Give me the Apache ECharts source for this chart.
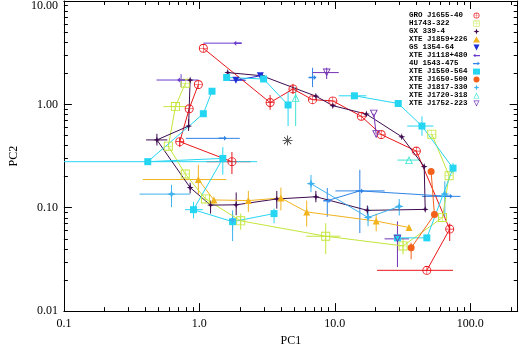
<!DOCTYPE html>
<html><head><meta charset="utf-8">
<script src="https://cdn.jsdelivr.net/npm/echarts@6/dist/echarts.min.js"></script>
<style>html,body{margin:0;padding:0;background:#fff}#c{width:520px;height:352px}</style>
</head><body><div id="c"></div>
<script>
// ---------- tick values / labels ----------
const xTickValues = [0.1, 1, 10, 100];
const xTickLabels = ['0.1', '1.0', '10.0', '100.0'];
const xMinorTicks = [0.2,0.3,0.4,0.5,0.6,0.7,0.8,0.9,2,3,4,5,6,7,8,9,20,30,40,50,60,70,80,90,200];
const yTickValues = [0.01, 0.1, 1, 10];
const yTickLabels = ['0.01', '0.10', '1.00', '10.00'];
const yMinorTicks = [0.02,0.03,0.04,0.05,0.06,0.07,0.08,0.09,0.2,0.3,0.4,0.5,0.6,0.7,0.8,0.9,2,3,4,5,6,7,8,9];

const sourceNames = ['GRO J1655-40','H1743-322','GX 339-4','XTE J1859+226','GS 1354-64','XTE J1118+480',
  '4U 1543-475','XTE J1550-564','XTE J1650-500','XTE J1817-330','XTE J1720-318','XTE J1752-223'];

// rows: [PC1, PC2, PC1 low, PC1 high, PC2 low, PC2 high]; null = gap in line
const GRO_J1655 = [
  [1.74,0.279,1.13,2.39,0.212,0.346],[0.717,0.436,null,null,0.386,0.479],[0.841,0.905],[0.983,1.556],
  null,
  [1.07,3.49],[3.33,1.04,null,null,0.886,1.23],[4.91,1.41,null,null,1.27,1.58],[6.85,1.11],[9.67,1.08],
  [15.7,0.766],[22.0,0.511],[40.0,0.353],[70.5,0.0621,null,null,0.0477,0.0703],[47.8,0.0248,20.5,74.6,null,null]
];
const H1743 = [
  [0.787,1.60],[0.666,0.951,0.543,0.81,null,null],[0.590,0.394],[0.787,0.212],[1.11,0.1216],
  [2.02,0.0747,null,null,0.0612,0.0878],[8.57,0.053,6.14,11.0,0.0356,0.0707],[31.9,0.0427,null,null,0.0354,0.0511],
  [62.4,0.0805],[69.8,0.204],[52.0,0.515]
];
const GX339 = [
  [0.855,1.72],[0.833,0.617,null,null,0.554,0.718],[0.486,0.453,0.404,0.580,0.400,0.519],
  [0.855,0.1566,null,null,0.1375,0.1745],[1.21,0.106,null,null,0.0878,0.1172],[1.87,0.1067,null,null,0.0846,0.1406],
  [3.73,0.1216,null,null,0.0979,0.1455],[7.25,0.1277,null,null,0.113,0.1455],[17.4,0.0943,null,null,0.0846,0.105],
  [46.5,0.0964],[45.7,0.250],[31.2,0.486],[17.1,0.805],[9.67,0.972],[7.25,1.20],[2.90,1.89],[1.62,2.03]
];
const J1859 = [
  [0.983,0.1874,0.383,1.58,0.1355,0.2594],[1.28,0.119],[2.30,0.1172,null,null,0.0911,0.1455],
  [4.00,0.1242,null,null,0.0943,0.1566],[6.20,0.0911,null,null,0.0658,0.1172],[20.2,0.0743,null,null,0.0591,0.0878],
  [35.3,0.0644]
];
const GS1354 = [[1.86,1.71,1.62,2.2,null,null],[2.82,1.89]];
const J1118 = [[1.91,3.91,1.07,2.06,null,null],null,[0.733,1.72,0.483,0.988,1.47,1.96]];
const U1543 = [
  [1.49,0.469,0.796,1.99,null,null],null,[6.85,1.82,null,null,1.47,2.26],null,
  [8.80,0.1171,null,null,0.0818,0.155],[15.3,0.1455,10.1,23.3,0.0569,0.2328],[69.3,0.1288,44.0,84.7,null,null]
];
const J1550 = [
  [1.59,1.82],[2.98,1.76],[4.52,0.987,null,null,0.617,1.32],
  null,
  [1.24,1.34],[1.07,0.812],[0.416,0.279,0.1,2.67,null,null],[1.49,0.300,null,null,0.209,0.386],
  [0.905,0.0958,0.783,1.06,0.0789,0.114],[1.76,0.0733,null,null,0.0611,0.0878],[3.56,0.0878,null,null,0.0707,0.0979],
  null,
  [29.0,0.0511],[47.8,0.0511],[74.6,0.2415,null,null,0.215,0.27],[44.0,0.617,34.3,53.5,0.497,0.766],
  [29.4,1.02],[13.95,1.21,10.7,17.1,null,null]
];
const J1650 = [[51.4,0.2243],[54.4,0.0859],[36.6,0.0409,null,null,0.0317,0.0458]];
const J1817 = [
  [0.623,0.1355,0.362,0.855,0.1016,0.1665],null,[1.76,0.076,null,null,0.0476,0.0943],null,
  [6.67,0.1708,null,null,0.1414,0.2075],[17.6,0.0805,null,null,0.0662,0.1022],[29.9,0.1029,null,null,0.0841,0.1216],
  null,[64.9,0.1355,null,null,0.0818,0.1806]
];
const J1720 = [[5.14,1.156,null,null,0.617,1.47],null,[35.3,0.289,29.0,42.8,null,null]];
const J1752 = [[8.71,2.03,6.85,10.7,1.76,2.26],null,[19.4,0.812],[20.2,0.515],null,[29.0,0.050,23.3,35.3,0.0267,0.0738]];
const centroid = [[4.48, 0.446]];

const sourceData = [GRO_J1655, H1743, GX339, J1859, GS1354, J1118, U1543, J1550, J1650, J1817, J1720, J1752];

// ---------- styles ----------
const P_CIRC_X = 'path://M0,10A10,10 0 1,1 20,10A10,10 0 1,1 0,10ZM2,10A8,8 0 1,0 18,10A8,8 0 1,0 2,10ZM9.4,0H10.6V20H9.4ZM0,9.4H20V10.6H0Z';
const P_SQ_X = 'path://M0,0H20V20H0ZM2,2V18H18V2ZM9.4,0H10.6V20H9.4ZM0,9.4H20V10.6H0Z';
const P_STAR = 'path://M10,0L12.5,7.5L20,10L12.5,12.5L10,20L7.5,12.5L0,10L7.5,7.5Z';
const P_TRI_DN = 'path://M0,0H20L10,20Z';
const P_TRI_UP_O = 'path://M10,0L20,20L0,20ZM10,5L3.5,18L16.5,18Z';
const P_TRI_DN_O = 'path://M0,0H20L10,20ZM3.5,2L10,15L16.5,2Z';
const P_ARR_L = 'path://M20,8.5H7V5L0,10L7,15V11.5H20Z';
const P_ARR_R = 'path://M0,8.5H13V5L20,10L13,15V11.5H0Z';
const P_AST = 'path://M9.2,0H10.8V20H9.2ZM0,9.2H20V10.8H0ZM2.36,3.5L3.5,2.36L17.64,16.5L16.5,17.64ZM17.64,3.5L16.5,2.36L2.36,16.5L3.5,17.64Z';

const styles = [
  {color:'#e8161b', symbol:P_CIRC_X, size:9},
  {color:'#c3e63c', symbol:P_SQ_X, size:9},
  {color:'#3d0b4f', symbol:P_STAR, size:7},
  {color:'#f2b31f', symbol:'triangle', size:7},
  {color:'#1f2fd6', symbol:P_TRI_DN, size:7},
  {color:'#6b3dcf', symbol:P_ARR_L, size:[8,5]},
  {color:'#2f84e6', symbol:P_ARR_R, size:[8,5]},
  {color:'#25d6f2', symbol:'rect', size:7},
  {color:'#f2601c', symbol:'circle', size:7},
  {color:'#3db2ee', symbol:P_STAR, size:9},
  {color:'#3ee6d2', symbol:P_TRI_UP_O, size:8},
  {color:'#7432b3', symbol:P_TRI_DN_O, size:8}
];

const FONT = 'Liberation Serif';

function makeErr(color) {
  return function (params, api) {
    const x = api.value(0), y = api.value(1);
    const l = api.coord([api.value(2), y]);
    const r = api.coord([api.value(3), y]);
    const b = api.coord([x, api.value(4)]);
    const t = api.coord([x, api.value(5)]);
    const st = {stroke: color, lineWidth: 1};
    return {type:'group', children:[
      {type:'line', shape:{x1:l[0], y1:l[1], x2:r[0], y2:r[1]}, style: st},
      {type:'line', shape:{x1:b[0], y1:b[1], x2:t[0], y2:t[1]}, style: st}
    ]};
  };
}

const series = [];
sourceNames.forEach((name, i) => {
  const rows = sourceData[i], st = styles[i];
  series.push({
    type:'line', name, animation:false, connectNulls:false, z:3,
    data: rows.map(r => r ? [r[0], r[1]] : ['-', '-']),
    symbol: st.symbol, symbolSize: st.size, showSymbol:true, showAllSymbol:true,
    itemStyle:{color: st.color}, lineStyle:{color: st.color, width:1},
    emphasis:{disabled:true}
  });
});
sourceNames.forEach((name, i) => {
  const rows = sourceData[i], st = styles[i];
  const errRows = rows.filter(r => r && (r[2] != null || r[4] != null))
    .map(r => [r[0], r[1], r[2] ?? r[0], r[3] ?? r[0], r[4] ?? r[1], r[5] ?? r[1]]);
  series.push({
    type:'custom', name: name + ' errors', animation:false, z:2,
    data: errRows, encode:{x:0, y:1}, renderItem: makeErr(st.color), silent:true
  });
});
series.push({
  type:'scatter', name:'centroid', animation:false, z:4, data: centroid,
  symbol: P_AST, symbolSize: 10, itemStyle:{color:'#000'}
});

function lab(vals, labels) {
  return v => {
    const i = vals.findIndex(t => Math.abs(Math.log10(t) - Math.log10(v)) < 1e-6);
    return i < 0 ? '' : labels[i];
  };
}

function xAxis(pos, major, labels) {
  return {
    type:'log', logBase:10, min:0.1, max:224, position:pos,
    axisLine:{show: major, onZero:false, lineStyle:{color:'#000', width:1}},
    axisTick:{show:true, inside:true, length: major ? 8 : 4, customValues: major ? xTickValues : xMinorTicks,
      lineStyle:{color:'#000', width:1}},
    axisLabel:{show: labels, customValues: xTickValues, formatter: lab(xTickValues, xTickLabels),
      color:'#000', fontFamily: FONT, fontSize:12, margin:7},
    splitLine:{show:false},
    name: labels ? 'PC1' : '', nameLocation:'middle', nameGap:20,
    nameTextStyle:{color:'#000', fontFamily: FONT, fontSize:12}
  };
}
function yAxis(pos, major, labels) {
  const f = lab(yTickValues, yTickLabels);
  return {
    type:'log', logBase:10, min:0.01, max:10, position:pos,
    axisLine:{show: major, onZero:false, lineStyle:{color:'#000', width:1}},
    axisTick:{show:true, inside:true, length: major ? 8 : 4, customValues: major ? yTickValues : yMinorTicks,
      lineStyle:{color:'#000', width:1}},
    axisLabel:{show: labels, customValues: yTickValues,
      formatter: v => { const s = f(v); return Math.abs(v - 10) < 1e-6 ? '{t|' + s + '}' : s; },
      rich:{t:{padding:[10,0,0,0], fontFamily: FONT, fontSize:12, color:'#000'}},
      color:'#000', fontFamily: FONT, fontSize:12, margin:6},
    splitLine:{show:false},
    name: labels ? 'PC2' : '', nameLocation:'middle', nameGap:34, nameRotate:90,
    nameTextStyle:{color:'#000', fontFamily: FONT, fontSize:12}
  };
}

const chart = echarts.init(document.getElementById('c'), null, {renderer:'canvas'});
chart.setOption({
  animation:false,
  backgroundColor:'#fff',
  grid:{left:54, right:2.3, top:1, bottom:31, containLabel:false},
  xAxis:[xAxis('bottom', true, true), xAxis('bottom', false, false), xAxis('top', true, false), xAxis('top', false, false)],
  yAxis:[yAxis('left', true, true), yAxis('left', false, false), yAxis('right', true, false), yAxis('right', false, false)],
  legend:{
    orient:'vertical', left:409, top:11.6, padding:0, itemGap:0, itemWidth:7, itemHeight:6,
    align:'right', selectedMode:false,
    data: sourceNames.map((n, i) => ({name:n, icon: styles[i].symbol, itemStyle:{color: styles[i].color}})),
    formatter: n => '{a|' + n + '}',
    textStyle:{rich:{a:{width:59, align:'left', fontFamily:'Liberation Mono', fontWeight:'bold',
      fontSize:7.5, lineHeight:6.75, color:'#000'}}}
  },
  series
});
</script></body></html>
